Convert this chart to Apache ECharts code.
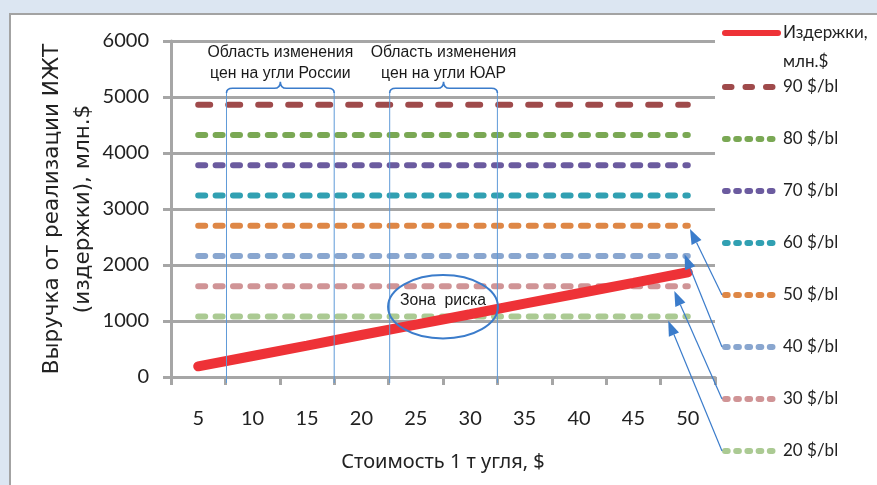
<!DOCTYPE html>
<html>
<head>
<meta charset="utf-8">
<script src="https://cdn.jsdelivr.net/npm/echarts@6/dist/echarts.min.js"></script>
<style>
  html, body { margin: 0; padding: 0; background: #dce6f2; }
  #chart { width: 877px; height: 485px; }
</style>
</head>
<body>
<div id="chart"></div>
<script>
// Coal price categories, $ per tonne
const coalPrices = ['5', '10', '15', '20', '25', '30', '35', '40', '45', '50'];
// Transport costs, mln $
const costName = 'Издержки, млн.$';
const costValues = [190, 375, 560, 750, 935, 1120, 1310, 1495, 1680, 1870];
// Revenue levels for each oil price, mln $
const oilLabels = ['90 $/bl', '80 $/bl', '70 $/bl', '60 $/bl', '50 $/bl', '40 $/bl', '30 $/bl', '20 $/bl'];
const revenueLevels = [4860, 4320, 3780, 3240, 2700, 2160, 1620, 1080];
// Value axis ticks
const yMin = 0, yMax = 6000, yStep = 1000;

// Coal price ranges by supplier
const regionRanges = [[7.6, 17.5], [22.6, 32.5]];
const regionLabels = ['Область изменения\nцен на угли России', 'Область изменения\nцен на угли ЮАР'];
// Risk zone: centre (coal price, mln $) and half-extent
const riskCenter = [27.5, 1255];
const riskHalf = [5.05, 566];
const riskLabel = 'Зона  риска';
// Legend entries pointed at their line ends, with target points (coal price, mln $)
const pointedLegend = ['50 $/bl', '40 $/bl', '30 $/bl', '20 $/bl'];
const pointTargets = [[50.2, 2643], [49.7, 2191], [48.76, 1536], [48.2, 1005]];

const FONT_NUM = 'Lato, "Noto Sans", sans-serif';
const FONT_TXT = '"Noto Sans", sans-serif';
const FONT_WIDE = '"DejaVu Sans", "Noto Sans", sans-serif';
const FONT_NOTE = '"Liberation Sans", Arial, sans-serif';
const lineColors = ['#9f4a4b', '#7aa854', '#6b5b9f', '#31a0b2', '#de8746', '#89a6cf', '#d09496', '#abca93'];
const costColor = '#ee3237';
const noteColor = '#3b7ccb';
const gridColor = '#a6a6a6';

const GRID = { left: 171, top: 41, right: 162, bottom: 108 };
const LEGEND_LEFT = 722, LEGEND_TOP = 77, LEGEND_STEP = 52;

const chart = echarts.init(document.getElementById('chart'));

const series = revenueLevels.map((level, i) => ({
  name: oilLabels[i],
  type: 'line',
  symbol: 'none',
  silent: true,
  data: coalPrices.map(() => level),
  lineStyle: { color: lineColors[i], width: 6, cap: 'round', type: i === 0 ? [12, 18] : [7, 10.4] },
  itemStyle: { color: lineColors[i] },
  z: 2
}));

series.push({
  name: costName,
  type: 'line',
  symbol: 'none',
  silent: true,
  data: costValues,
  lineStyle: { color: costColor, width: 10, cap: 'round' },
  itemStyle: { color: costColor },
  z: 3
});

// Curly braces with their boundary lines and captions
series.push({
  type: 'custom',
  xAxisIndex: 1,
  yAxisIndex: 0,
  silent: true,
  z: 4,
  data: regionRanges,
  renderItem(params, api) {
    const x1 = api.coord([api.value(0), 0])[0];
    const x2 = api.coord([api.value(1), 0])[0];
    const yAxisLine = api.coord([0, 0])[1];
    const top = params.coordSys.y;
    const yTip = top + 52, yBody = top + 47.3, yPeak = top + 40.7;
    const xm = (x1 + x2) / 2, r = 6;
    const d = `M${x1},${yTip} Q${x1},${yBody} ${x1 + r},${yBody} L${xm - r},${yBody} ` +
      `Q${xm},${yBody} ${xm},${yPeak} Q${xm},${yBody} ${xm + r},${yBody} ` +
      `L${x2 - r},${yBody} Q${x2},${yBody} ${x2},${yTip}`;
    return {
      type: 'group',
      children: [
        { type: 'path', shape: { pathData: d }, style: { stroke: noteColor, lineWidth: 1.6, fill: null } },
        { type: 'line', shape: { x1: x1, y1: yTip, x2: x1, y2: yAxisLine + 6 }, style: { stroke: '#5f9ad8', lineWidth: 1 } },
        { type: 'line', shape: { x1: x2, y1: yTip, x2: x2, y2: yAxisLine + 6 }, style: { stroke: '#5f9ad8', lineWidth: 1 } },
        {
          type: 'text',
          style: {
            text: regionLabels[params.dataIndex], x: xm, y: top + 22,
            align: 'center', verticalAlign: 'middle',
            font: '15.8px ' + FONT_NOTE, lineHeight: 21.6, fill: '#1a1a1a'
          }
        }
      ]
    };
  }
});

// Risk zone ellipse
series.push({
  type: 'custom',
  xAxisIndex: 1,
  yAxisIndex: 0,
  silent: true,
  z: 5,
  data: [riskCenter],
  renderItem(params, api) {
    const c = api.coord([api.value(0), api.value(1)]);
    const s = api.size([riskHalf[0], riskHalf[1]]);
    return {
      type: 'group',
      children: [
        { type: 'ellipse', shape: { cx: c[0], cy: c[1], rx: s[0], ry: s[1] }, style: { stroke: noteColor, lineWidth: 2, fill: null } },
        {
          type: 'text',
          style: {
            text: riskLabel, x: c[0], y: c[1] - 6, align: 'center', verticalAlign: 'middle',
            font: '15.8px ' + FONT_NOTE, fill: '#1a1a1a'
          }
        }
      ]
    };
  }
});

const legendText = { fontFamily: FONT_NUM, fontSize: 17, color: '#222' };
const legendMark = { color: 'rgba(0,0,0,0)', opacity: 0, borderWidth: 0 };

const option = {
  animation: false,
  backgroundColor: '#dce6f2',
  grid: GRID,
  xAxis: [
    {
      type: 'category',
      data: coalPrices,
      boundaryGap: true,
      name: 'Стоимость 1 т угля, $',
      nameLocation: 'middle',
      nameGap: 75,
      nameTextStyle: { fontFamily: FONT_TXT, fontSize: 20, color: '#222' },
      axisLine: { lineStyle: { color: gridColor, width: 3 } },
      axisTick: { show: true, length: 8, lineStyle: { color: gridColor, width: 3 } },
      axisLabel: { margin: 32, fontFamily: FONT_NUM, fontSize: 20, color: '#222' },
      splitLine: { show: false }
    },
    {
      type: 'value',
      min: 2.5,
      max: 52.5,
      show: false
    }
  ],
  yAxis: {
    type: 'value',
    min: yMin,
    max: yMax,
    interval: yStep,
    name: 'Выручка от реализации ИЖТ\n(издержки), млн.$',
    nameLocation: 'middle',
    nameRotate: 90,
    nameGap: 72,
    nameMoveOverlap: false,
    nameTextStyle: { fontFamily: FONT_WIDE, fontSize: 21.5, color: '#222', lineHeight: 31 },
    axisLine: { show: true, lineStyle: { color: gridColor, width: 3 } },
    axisTick: { show: true, length: 8, lineStyle: { color: gridColor, width: 3 } },
    axisLabel: { margin: 22, fontFamily: FONT_NUM, fontSize: 20, color: '#222', formatter: (v) => String(v) },
    splitLine: { show: true, lineStyle: { color: gridColor, width: 3 } }
  },
  legend: [
    {
      data: [costName],
      orient: 'vertical',
      left: LEGEND_LEFT,
      top: -10.5,
      padding: 0,
      itemWidth: 53,
      itemHeight: 14,
      selectedMode: false,
      // leading empty line keeps the first caption line level with the marker
      formatter: (n) => '\n' + n.replace(' ', '\n'),
      textStyle: Object.assign({ lineHeight: 29 }, legendText),
      itemStyle: legendMark,
      lineStyle: { width: 6, cap: 'round' }
    },
    {
      data: oilLabels.map((n, i) => ({ name: n, lineStyle: { type: i === 0 ? [6.5, 14] : [2.7, 8.5] } })),
      orient: 'vertical',
      left: LEGEND_LEFT,
      top: LEGEND_TOP,
      padding: 0,
      itemWidth: 53,
      itemHeight: 14,
      itemGap: LEGEND_STEP - 20,
      selectedMode: false,
      textStyle: Object.assign({ lineHeight: 20 }, legendText),
      itemStyle: legendMark,
      lineStyle: { width: 6, cap: 'round' }
    }
  ],
  series: series
};

chart.setOption(option);

// Frame, and arrows from legend entries to the ends of their lines
function arrow(tail, tip) {
  const dx = tip[0] - tail[0], dy = tip[1] - tail[1];
  const len = Math.hypot(dx, dy);
  const ux = dx / len, uy = dy / len;
  const L = 15, W = 5.5;
  const bx = tip[0] - ux * L, by = tip[1] - uy * L;
  return [
    { type: 'line', silent: true, z: 6, shape: { x1: tail[0], y1: tail[1], x2: bx, y2: by }, style: { stroke: noteColor, lineWidth: 1.2 } },
    { type: 'polygon', silent: true, z: 6, shape: { points: [tip, [bx - uy * W, by + ux * W], [bx + uy * W, by - ux * W]] }, style: { fill: noteColor } }
  ];
}

const graphics = [
  { type: 'rect', silent: true, z: -1, shape: { x: 10, y: 14, width: 900, height: 500 }, style: { fill: '#ffffff', stroke: '#a3a3a3', lineWidth: 2 } }
];
pointedLegend.forEach((name, i) => {
  const k = oilLabels.indexOf(name);
  const tail = [LEGEND_LEFT, LEGEND_TOP + 10 + k * LEGEND_STEP];
  const tip = chart.convertToPixel({ xAxisIndex: 1, yAxisIndex: 0 }, pointTargets[i]);
  graphics.push(...arrow(tail, tip));
});
chart.setOption({ graphic: graphics });
</script>
</body>
</html>
